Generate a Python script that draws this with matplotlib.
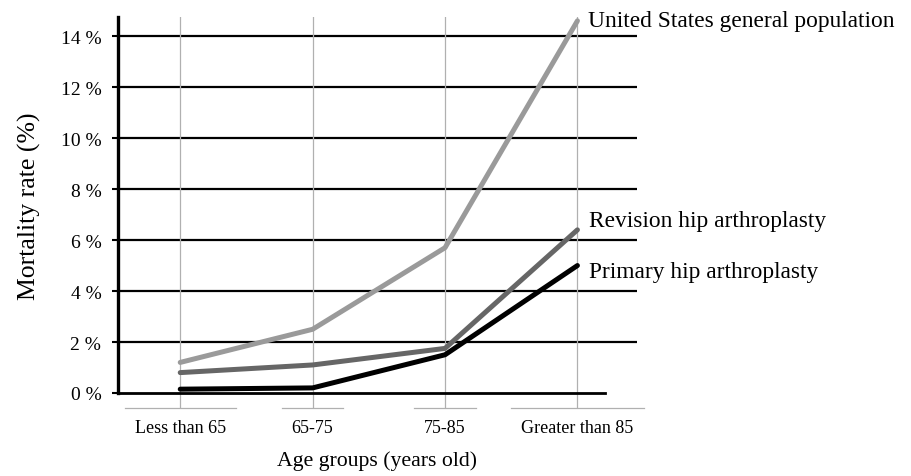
import numpy as np
import matplotlib
matplotlib.use('Agg')
import matplotlib.pyplot as plt

# Mortality rate (%) by age group
age_groups = ['Less than 65', '65-75', '75-85', 'Greater than 85']
us_general = [1.2, 2.5, 5.7, 14.6]
revision_hip = [0.8, 1.1, 1.75, 6.4]
primary_hip = [0.15, 0.2, 1.5, 5.0]
series_names = ['United States general population', 'Revision hip arthroplasty',
                'Primary hip arthroplasty']
y_ticks = [0, 2, 4, 6, 8, 10, 12, 14]

plt.rcParams['font.family'] = ['Liberation Serif', 'DejaVu Serif']

fig = plt.figure(figsize=(9.12, 4.77), dpi=100)
W, H = 912, 477
left, right, bottom, top = 118, 637, 394, 18
ax = fig.add_axes([left / W, 1 - bottom / H, (right - left) / W, (bottom - top) / H])

x = np.arange(len(age_groups))
series = [us_general, revision_hip, primary_hip]
colors = ['#9a9a9a', '#666666', '#000000']
offsets = [(11, 0), (12, 9), (12, -6)]
for vals, col, name, off in zip(series, colors, series_names, offsets):
    ax.plot(x, vals, color=col, lw=3.6, solid_capstyle='round', zorder=3)
    ax.annotate(name, (x[-1], vals[-1]), xytext=off, textcoords='offset pixels',
                ha='left', va='center', fontsize=16.8, annotation_clip=False)

ax.set_xlim(-0.47, 3.45)
ax.set_ylim(0, 14.75)

ax.set_yticks(y_ticks)
ax.set_yticklabels([f'{v} %' for v in y_ticks])
ax.set_xticks(x)
ax.set_xticklabels(age_groups)

# horizontal black gridlines, light vertical gridlines
for v in y_ticks[1:]:
    ax.axhline(v, color='black', lw=1.6, zorder=1)
ax.grid(axis='x', color='#b0b0b0', lw=0.9, zorder=0)

for s in ['top', 'right']:
    ax.spines[s].set_visible(False)
ax.spines['left'].set_linewidth(2.4)
ax.spines['bottom'].set_linewidth(2.0)
ax.spines['bottom'].set_bounds(-0.47, 3.21)
ax.spines['left'].set_zorder(4)

ax.tick_params(axis='y', direction='out', length=4, width=1.5, labelsize=14, pad=8)
ax.tick_params(axis='x', direction='out', length=11, width=0.9, color='#b0b0b0',
               labelsize=13, pad=8)

ax.set_xlabel('Age groups (years old)', fontsize=15.7, labelpad=10)
ax.set_ylabel('Mortality rate (%)', fontsize=18.5, labelpad=14)

# light underline segments under each category label
fig.canvas.draw()
renderer = fig.canvas.get_renderer()
inv = fig.transFigure.inverted()
for lbl in ax.get_xticklabels():
    bb = lbl.get_window_extent(renderer)
    (x0, _), (x1, _) = inv.transform([(bb.x0 - 10, 0), (bb.x1 + 10, 0)])
    yb = 1 - 409 / H
    fig.add_artist(plt.Line2D([x0, x1], [yb, yb], color='#b0b0b0', lw=0.9,
                              transform=fig.transFigure))

fig.savefig('out.png', dpi=100)
